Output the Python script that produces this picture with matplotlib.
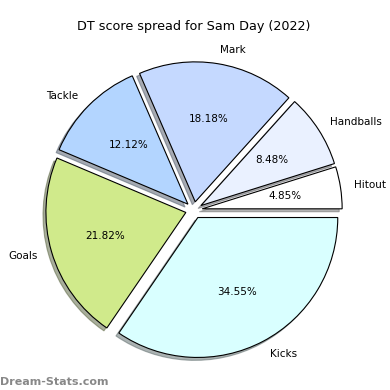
import matplotlib
matplotlib.use("Agg")
import matplotlib.pyplot as plt

labels = ['Hitout', 'Handballs', 'Mark', 'Tackle', 'Goals', 'Kicks']
scores = [8, 14, 30, 20, 36, 57]
colors = ['#ffffff', '#eaf1ff', '#c5d9ff', '#b3d5ff', '#d0ea8b', '#d9ffff']
explode = [0.06] * len(scores)

fig = plt.figure(figsize=(3.9, 3.9), dpi=100)
ax = fig.add_axes([0.0487, 0.0128, 0.897, 0.897])
ax.pie(scores, labels=labels, colors=colors, explode=explode, autopct='%1.2f%%',
       shadow={'ox': -0.015, 'oy': -0.015, 'shade': 0.6}, startangle=0,
       wedgeprops={'edgecolor': 'black', 'linewidth': 0.8},
       textprops={'fontsize': 7.5})
ax.set_title('DT score spread for Sam Day (2022)', fontsize=9.2, pad=4)
fig.text(0.0, 0.012, 'Dream-Stats.com', color='#888888', fontsize=8, fontweight='bold')
fig.savefig('out.png', dpi=100)
